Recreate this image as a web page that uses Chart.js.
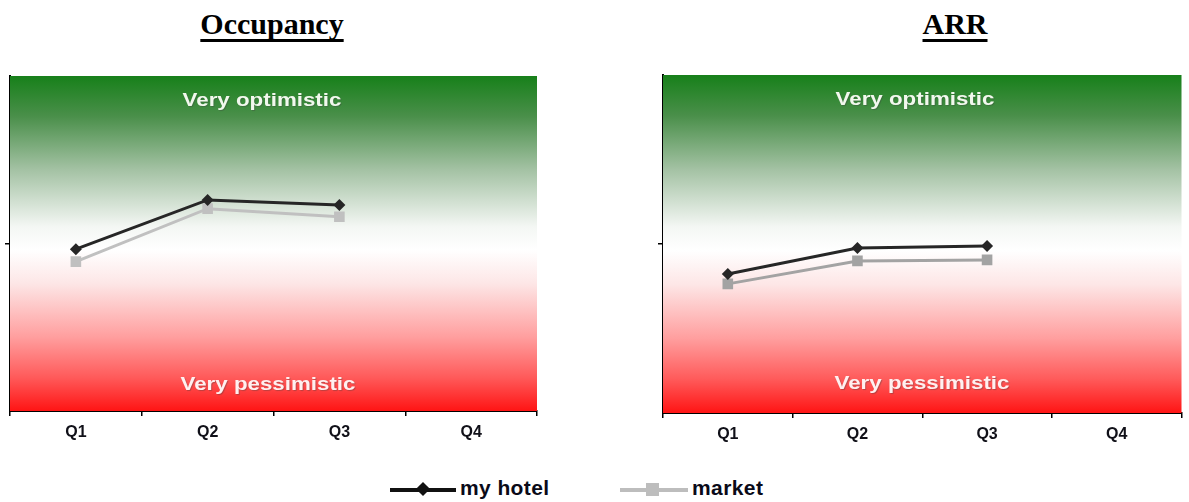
<!DOCTYPE html>
<html>
<head>
<meta charset="utf-8">
<script src="https://cdn.jsdelivr.net/npm/chart.js@4.4.0/dist/chart.umd.min.js"></script>
<style>
  html, body { margin:0; padding:0; background:#fff; }
  body { width:1189px; height:502px; position:relative; overflow:hidden; }
  canvas { position:absolute; top:0; }
  .title { position:absolute; top:7px; font-family:"Liberation Serif","Times New Roman",serif; font-weight:bold; font-size:30px; color:#000; text-decoration:underline; text-decoration-thickness:3px; text-underline-offset:5px; text-decoration-skip-ink:none; transform:translateX(-50%); white-space:nowrap; }
  .legend { position:absolute; top:476px; height:26px; font-family:"Liberation Sans",Arial,sans-serif; font-weight:bold; font-size:21px; letter-spacing:0.4px; color:#0a0a18; }
  .lg-item { position:absolute; top:0; height:26px; }
  .lg-line { position:absolute; top:12px; height:4px; }
  .lg-mark { position:absolute; }
  .lg-text { position:absolute; top:0px; white-space:nowrap; }
</style>
</head>
<body>
<div class="title" style="left:272px">Occupancy</div>
<div class="title" style="left:955px">ARR</div>
<canvas id="occ" width="594" height="460" style="left:0"></canvas>
<canvas id="arr" width="595" height="460" style="left:594px"></canvas>

<div class="legend">
  <div class="lg-item" style="left:390px">
    <div class="lg-line" style="left:0;width:66px;background:#111;"></div>
    <div class="lg-mark" style="left:28px;top:8px;width:10px;height:10px;background:#111;transform:rotate(45deg);"></div>
    <div class="lg-text" style="left:70px">my hotel</div>
  </div>
  <div class="lg-item" style="left:620px">
    <div class="lg-line" style="left:0;width:68px;background:#bdbdbd;"></div>
    <div class="lg-mark" style="left:26px;top:7px;width:13px;height:13px;background:#bdbdbd;"></div>
    <div class="lg-text" style="left:72px">market</div>
  </div>
</div>

<script>
// ---- data ----
const categories = ['Q1', 'Q2', 'Q3', 'Q4'];
const occMyHotel = [48.3, 63.0, 61.5, null];
const occMarket  = [44.6, 60.4, 58.0, null];
const arrMyHotel = [41.1, 48.8, 49.4, null];
const arrMarket  = [38.2, 45.0, 45.3, null];
const yMin = 0, yMax = 100, yStep = 50;
const topLabel = 'Very optimistic';
const bottomLabel = 'Very pessimistic';

const bgPlugin = {
  id: 'moodBg',
  beforeDatasetsDraw(chart) {
    const {ctx, chartArea: a} = chart;
    const g = ctx.createLinearGradient(0, a.top, 0, a.bottom);
    g.addColorStop(0, '#17801a');
    g.addColorStop(0.12, '#4a8f4a');
    g.addColorStop(0.28, '#a4c2a4');
    g.addColorStop(0.45, '#f4f7f4');
    g.addColorStop(0.52, '#ffffff');
    g.addColorStop(0.62, '#fde6e6');
    g.addColorStop(0.78, '#ff9e9e');
    g.addColorStop(0.9, '#ff5a5a');
    g.addColorStop(1, '#ff1414');
    ctx.save();
    ctx.fillStyle = g;
    ctx.fillRect(a.left, a.top, a.right - a.left, a.bottom - a.top);
    const o = chart.options.plugins.moodBg;
    ctx.font = 'bold 18px "Liberation Sans", Arial, sans-serif';
    ctx.textAlign = 'center';
    ctx.textBaseline = 'middle';
    const drawScaled = (txt, cx, cy, color) => {
      ctx.save();
      ctx.translate(cx, cy);
      ctx.scale(1.24, 1);
      ctx.shadowColor = 'rgba(60,60,60,0.35)';
      ctx.shadowOffsetX = 1; ctx.shadowOffsetY = 1; ctx.shadowBlur = 1;
      ctx.fillStyle = color;
      ctx.fillText(txt, 0, 0);
      ctx.restore();
    };
    drawScaled(topLabel, o.textX, a.top + o.topDy, '#f2f8ee');
    drawScaled(bottomLabel, o.textX2, a.bottom - o.botDy, '#fff0f0');
    ctx.restore();
  }
};

const midTickColor = (c) => (c.tick && (c.tick.value === yMin || c.tick.value === yMax)) ? 'rgba(0,0,0,0)' : '#000';

function makeChart(id, mine, market, marketColor, pad, textX, textX2, topDy, botDy) {
  return new Chart(document.getElementById(id), {
    type: 'line',
    data: {
      labels: categories,
      datasets: [
        { label: 'my hotel', data: mine, borderColor: '#262626', backgroundColor: '#262626',
          borderWidth: 3, pointStyle: 'rectRot', pointRadius: 6, pointBorderWidth: 0, tension: 0, spanGaps: false },
        { label: 'market', data: market, borderColor: marketColor, backgroundColor: marketColor,
          borderWidth: 3, pointStyle: 'rect', pointRadius: 7.5, pointBorderWidth: 0, tension: 0, spanGaps: false }
      ]
    },
    options: {
      responsive: false,
      animation: false,
      devicePixelRatio: 1,
      layout: { padding: pad },
      plugins: {
        legend: { display: false },
        tooltip: { enabled: false },
        moodBg: { textX, textX2, topDy, botDy }
      },
      scales: {
        x: {
          offset: true,
          grid: { display: true, offset: true, drawOnChartArea: false, drawTicks: true, tickLength: 5, color: '#000', lineWidth: 1.5 },
          border: { display: true, color: '#000', width: 2 },
          ticks: { color: '#101018', font: { family: '"Liberation Sans", Arial, sans-serif', size: 16, weight: 'bold' }, padding: 7, maxRotation: 0 },
          afterFit(axis) { axis.height = 40; }
        },
        y: {
          min: yMin, max: yMax,
          ticks: { stepSize: yStep, display: false },
          grid: { display: true, drawOnChartArea: false, drawTicks: true, tickLength: 5, color: midTickColor, lineWidth: 1.5 },
          border: { display: true, color: '#000', width: 2 },
          afterFit(axis) { axis.width = 6; }
        }
      }
    },
    plugins: [bgPlugin]
  });
}

makeChart('occ', occMyHotel, occMarket, '#c0c0c0', { left: 4, right: 57, top: 76, bottom: 9 }, 262, 268, 25, 26);
makeChart('arr', arrMyHotel, arrMarket, '#a3a3a3', { left: 63, right: 0, top: 75, bottom: 7 }, 321, 328, 25, 29);
</script>
</body>
</html>
